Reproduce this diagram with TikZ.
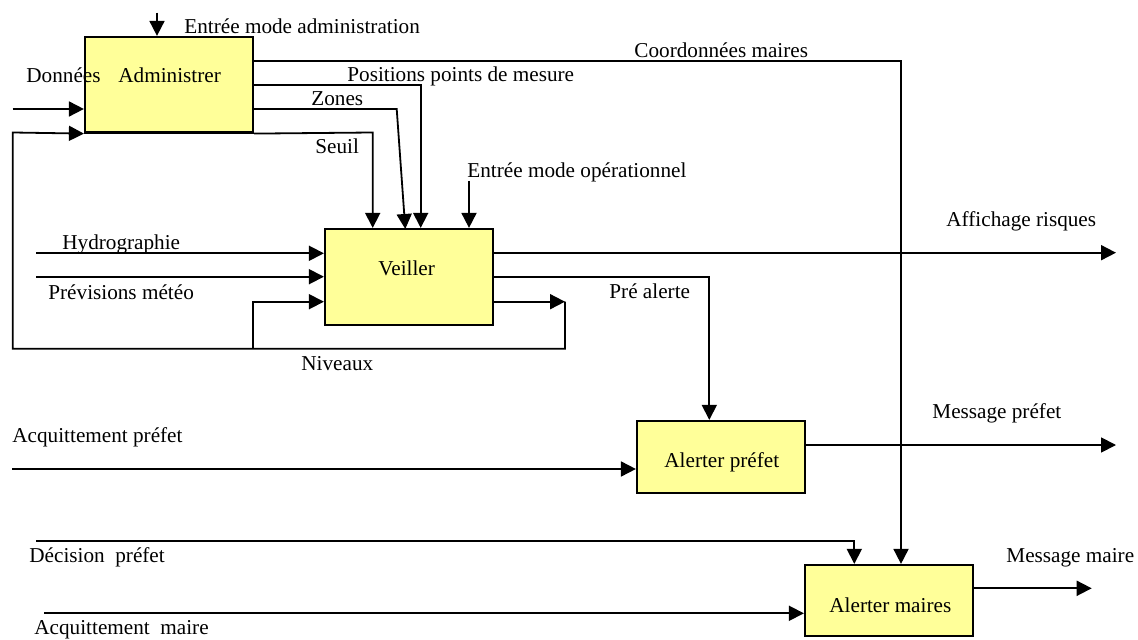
\documentclass[tikz,border=0pt]{standalone}
\usepackage{fontspec}
\setmainfont{Liberation Serif}
\usetikzlibrary{arrows.meta}
\definecolor{boxyellow}{RGB}{255,255,153}
\begin{document}
\begin{tikzpicture}[x=0.5pt,y=-0.5pt,
  box/.style={draw=black,line width=1.1pt,fill=boxyellow,minimum width=84pt,inner sep=0pt},
  txt/.style={inner sep=0pt,anchor=base west,font=\fontsize{10.6}{12}\selectfont},
  conn/.style={line width=0.9pt},
  arr/.style={conn,-{Triangle[length=7.5pt,width=7.5pt]}}]
\useasboundingbox[fill=white] (0,0) rectangle (1138,640);
% boxes
\node[box,minimum height=47.75pt] (adm) at (169,84.75) {};
\node[box,minimum height=48pt] (veil) at (409,277) {};
\node[box,minimum height=36pt] (alp) at (721,457) {};
\node[box,minimum height=35.5pt] (alm) at (889,600.5) {};
\node[txt] (tadm) at (118,83) {Administrer};
\node[txt] (tveil) at (378,276) {Veiller};
\node[txt] (talp) at (664,467.7) {Alerter préfet};
\node[txt] (talm) at (829,612.3) {Alerter maires};
% coordinates
\coordinate (ea) at (157,12.7);
\coordinate (d0) at (12.7,109);
\coordinate (cm) at (901,61);
\coordinate (pp) at (420.7,85);
\coordinate (zn) at (396.7,109);
\coordinate (zne) at (405.3,229);
\coordinate (se) at (372.7,132.5);
\coordinate (eo) at (469,181);
\coordinate (hy) at (36,253.3);
\coordinate (pm) at (36,276.7);
\coordinate (fb) at (565,301.7);
\coordinate (fbR) at (565,348.7);
\coordinate (fbL) at (12.7,348.7);
\coordinate (fbU) at (12.7,132.5);
\coordinate (fbB) at (253.3,348.7);
\coordinate (fbT) at (253.3,301.7);
\coordinate (af) at (1116,252.7);
\coordinate (pa) at (709.3,276.7);
\coordinate (ap) at (12,469);
\coordinate (mp) at (1116,445);
\coordinate (dp) at (36,540.7);
\coordinate (dpc) at (854.3,540.7);
\coordinate (am) at (44,613.3);
\coordinate (mm) at (1091.7,588.3);
% connectors
\draw[arr] (ea) -- (ea |- adm.north);
\draw[arr] (d0) -- (d0 -| adm.west);
\draw[arr] (adm.east |- cm) -- (cm) -- (cm |- alm.north);
\draw[arr] (adm.east |- pp) -- (pp) -- (pp |- veil.north);
\draw[arr] (adm.east |- zn) -- (zn) -- (zne);
\draw[arr] (adm.south east) -- (se) -- (se |- veil.north);
\draw[arr] (eo) -- (eo |- veil.north);
\draw[arr] (hy) -- (hy -| veil.west);
\draw[arr] (pm) -- (pm -| veil.west);
\draw[arr] (veil.east |- fb) -- (fb);
\draw[arr] (fb) -- (fbR) -- (fbL) -- (fbU) -- (adm.south west);
\draw[arr] (fbB) -- (fbT) -- (fbT -| veil.west);
\draw[arr] (veil.east |- af) -- (af);
\draw[arr] (veil.east |- pa) -- (pa) -- (pa |- alp.north);
\draw[arr] (ap) -- (ap -| alp.west);
\draw[arr] (alp.east |- mp) -- (mp);
\draw[arr] (dp) -- (dpc) -- (dpc |- alm.north);
\draw[arr] (am) -- (am -| alm.west);
\draw[arr] (alm.east |- mm) -- (mm);
% labels
\node[txt] (l1) at (184,34) {Entrée mode administration};
\node[txt] (l2) at (26,83) {Données};
\node[txt] (l3) at (634,58) {Coordonnées maires};
\node[txt] (l4) at (347,82) {Positions points de mesure};
\node[txt] (l5) at (311,106) {Zones};
\node[txt] (l6) at (315,153.3) {Seuil};
\node[txt] (l7) at (467,178) {Entrée mode opérationnel};
\node[txt] (l8) at (62,250) {Hydrographie};
\node[txt] (l9) at (48,299.3) {Prévisions météo};
\node[txt] (l10) at (609,298.3) {Pré alerte};
\node[txt] (l11) at (946,226.7) {Affichage risques};
\node[txt] (l12) at (301,370.7) {Niveaux};
\node[txt] (l13) at (12,442.7) {Acquittement préfet};
\node[txt] (l14) at (932,418.7) {Message préfet};
\node[txt] (l15) at (29,562.7) {Décision~~préfet};
\node[txt] (l16) at (1006,562.7) {Message maire};
\node[txt] (l17) at (34,634.3) {Acquittement~~maire};
\end{tikzpicture}
\end{document}
